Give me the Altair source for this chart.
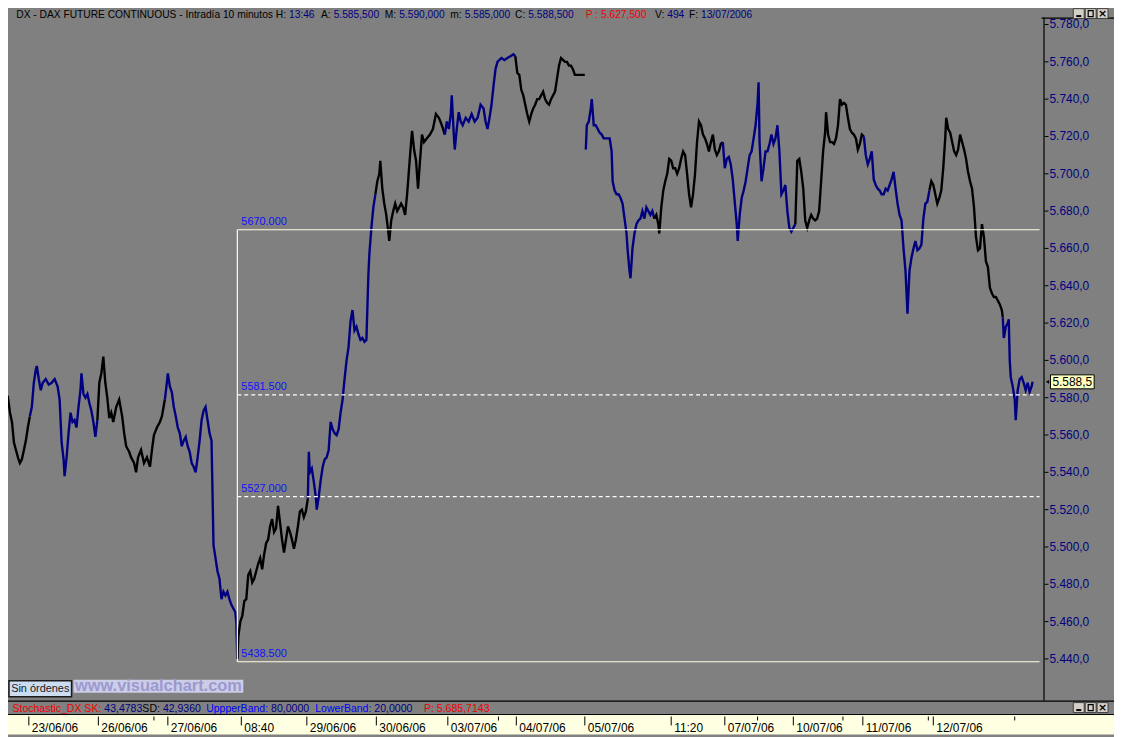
import altair as alt
import pandas as pd

# ---------------- data ----------------
# bar number (10-minute bars, one per pixel column) and price
bar = [4, 6, 8, 10, 12, 14, 16, 18, 20, 22, 24, 26, 28, 30,
       32, 34, 36, 37, 39, 41, 43, 46, 49, 52, 55, 58, 60, 62, 64, 65, 67, 69, 71, 73, 75, 77, 79, 81, 82, 84, 86, 88, 90, 92, 94, 96, 98,
       100, 102, 104, 106, 108, 110, 112, 114, 117, 120, 123, 125, 127, 130, 132, 135, 137, 139, 142, 145, 148, 151, 153, 155, 158, 161, 163, 166,
       168, 169, 171, 173, 175, 177, 179, 181, 183, 185, 187, 189, 191, 193, 195, 197, 199, 201, 203, 205, 207, 209, 211, 213, 214, 215, 217, 219, 221, 223, 225, 227, 229, 231, 233, 235, 237, 238, 239,
       240, 242, 244, 246, 248, 250, 252, 254, 256, 258, 260, 262, 264, 266, 268, 270, 272, 274, 276, 278, 280, 282, 284, 286, 288, 290, 292, 294, 296, 298, 300, 302, 304, 306, 308, 310,
       311, 312, 314, 316, 318, 319, 321, 323, 325, 327, 329, 331, 333, 335, 337, 339, 341, 343, 345, 347, 349, 351, 353, 355, 357, 359, 361, 363, 365, 367, 369, 371, 372, 374, 376, 378,
       380, 382, 383, 385, 387, 389, 391, 392, 394, 396, 398, 400, 402, 404, 406, 408, 410, 412, 414, 415, 417, 419, 421, 423, 425, 427, 430, 433, 436, 439, 442, 445, 448,
       450, 452, 454, 455, 457, 458, 460, 462, 464, 466, 469, 472, 475, 478, 481, 484, 487, 489, 491, 493, 495, 497, 499, 501, 503, 505, 508, 511, 514, 517, 519,
       521, 523, 525, 527, 529, 531, 533, 535, 537, 539, 541, 543, 545, 547, 549, 551, 553, 555, 557, 559, 561, 563, 565, 567, 569, 571, 573, 575, 577, 579, 581, 583, 585, 587, 589,
       590, 591, 593, 595, 596, 598, 600, 602, 604, 606, 608, 610, 612, 614, 616, 617, 619, 621, 623, 625, 627, 629, 631, 632, 634, 635, 637, 639, 641, 643, 645, 647, 649, 651, 653, 655, 657, 659,
       661, 663, 664, 666, 668, 670, 672, 674, 676, 678, 680, 682, 684, 686, 688, 690, 692, 694, 696, 698, 700, 702, 704, 706, 708, 710, 712, 714, 716, 718, 720, 722, 724, 726, 728,
       730, 732, 734, 736, 738, 740, 742, 743, 745, 747, 749, 751, 753, 755, 757, 759, 761, 763, 764, 765, 767, 769, 771, 773, 775, 777, 779, 781, 783, 785, 787, 789, 791, 793, 795, 797, 799, 801,
       803, 805, 807, 809, 811, 813, 815, 817, 819, 821, 823, 825, 827, 829, 831, 832, 834, 836, 838, 840, 842, 844, 846, 848, 850, 852, 854, 856, 858, 860, 862, 864, 866, 868, 870,
       872, 874, 876, 878, 880, 882, 884, 886, 888, 890, 892, 894, 896, 898, 900, 902, 904, 906, 908, 910, 912, 914, 916, 918, 920, 922, 924, 926, 928, 930, 932, 934, 936,
       938, 940, 942, 944, 946, 948, 950, 952, 953, 955, 957, 959, 961, 963, 965, 967, 969, 971, 973, 975, 977, 979, 981, 983, 985, 987, 989, 991, 993, 995, 997, 999, 1001, 1003, 1005, 1007, 1009, 1010,
       1011, 1013, 1015, 1016, 1017, 1018, 1020, 1022, 1023, 1025, 1027, 1029, 1031, 1033, 1035, 1037, 1039, 1040]
price = [5572, 5579, 5580, 5572, 5567, 5556, 5552, 5548, 5545, 5547, 5552, 5557, 5564, 5570,
         5575, 5588, 5595, 5597, 5590, 5584, 5588, 5590, 5587, 5588, 5590, 5586, 5579, 5556, 5547, 5538, 5548, 5561, 5572, 5567, 5568, 5564, 5575, 5584, 5593, 5582, 5580, 5582, 5577, 5573, 5567, 5559, 5568,
         5588, 5593, 5602, 5588, 5580, 5569, 5572, 5567, 5575, 5579, 5570, 5561, 5554, 5551, 5548, 5545, 5540, 5548, 5552, 5545, 5548, 5543, 5552, 5560, 5564, 5567, 5570, 5579,
         5588, 5593, 5586, 5583, 5575, 5570, 5564, 5561, 5554, 5557, 5559, 5554, 5551, 5545, 5543, 5540, 5548, 5557, 5568, 5573, 5575, 5568, 5561, 5557, 5529, 5501, 5494, 5487, 5483, 5472, 5476, 5474, 5476, 5472, 5469, 5467, 5465, 5459, 5440,
         5452, 5460, 5463, 5471, 5472, 5485, 5487, 5481, 5483, 5487, 5491, 5494, 5488, 5496, 5502, 5504, 5511, 5515, 5508, 5510, 5522, 5513, 5504, 5497, 5504, 5511, 5508, 5504, 5499, 5504, 5511, 5519, 5520, 5516, 5519, 5526,
         5551, 5540, 5542, 5535, 5527, 5520, 5527, 5536, 5543, 5547, 5548, 5552, 5567, 5563, 5561, 5560, 5563, 5572, 5579, 5590, 5600, 5607, 5621, 5627, 5616, 5618, 5614, 5611, 5612, 5610, 5611, 5646, 5657, 5671, 5682, 5689,
         5696, 5700, 5707, 5692, 5684, 5678, 5669, 5664, 5675, 5680, 5684, 5680, 5682, 5684, 5682, 5678, 5689, 5703, 5717, 5723, 5713, 5707, 5692, 5707, 5721, 5717, 5719, 5721, 5724, 5732, 5730, 5726, 5721,
         5728, 5724, 5732, 5742, 5721, 5713, 5724, 5733, 5728, 5726, 5730, 5728, 5732, 5728, 5730, 5737, 5735, 5728, 5724, 5730, 5737, 5747, 5756, 5760, 5761, 5762, 5761, 5762, 5763, 5764, 5763,
         5754, 5753, 5745, 5742, 5737, 5732, 5728, 5732, 5735, 5737, 5740, 5740, 5742, 5744, 5740, 5738, 5737, 5740, 5742, 5744, 5751, 5758, 5762, 5761, 5760, 5760, 5758, 5758, 5756, 5753, 5753, 5753, 5753, 5753, 5753,
         5713, 5726, 5728, 5735, 5740, 5726, 5726, 5724, 5722, 5721, 5719, 5719, 5719, 5719, 5712, 5696, 5691, 5689, 5689, 5687, 5684, 5676, 5668, 5660, 5648, 5644, 5660, 5668, 5673, 5675, 5676, 5680, 5676, 5682, 5680, 5678, 5680, 5676,
         5678, 5673, 5668, 5682, 5691, 5696, 5700, 5708, 5707, 5703, 5703, 5700, 5703, 5708, 5712, 5710, 5700, 5689, 5682, 5689, 5700, 5717, 5728, 5726, 5721, 5719, 5716, 5712, 5717, 5721, 5713, 5710, 5712, 5716, 5717,
         5703, 5708, 5709, 5705, 5697, 5685, 5673, 5664, 5678, 5687, 5691, 5696, 5703, 5710, 5712, 5719, 5726, 5738, 5749, 5717, 5696, 5703, 5712, 5712, 5716, 5721, 5716, 5719, 5726, 5712, 5689, 5691, 5694, 5680, 5671, 5669, 5671, 5673,
         5707, 5708, 5701, 5692, 5675, 5671, 5675, 5678, 5676, 5675, 5676, 5680, 5696, 5712, 5722, 5733, 5721, 5717, 5717, 5716, 5719, 5726, 5740, 5737, 5738, 5737, 5730, 5724, 5722, 5721, 5719, 5713, 5716, 5721, 5720,
         5710, 5705, 5708, 5712, 5697, 5694, 5692, 5691, 5689, 5689, 5692, 5691, 5694, 5697, 5701, 5692, 5684, 5678, 5675, 5660, 5648, 5625, 5648, 5655, 5660, 5664, 5659, 5660, 5662, 5676, 5684, 5685, 5691,
         5696, 5694, 5689, 5684, 5687, 5691, 5703, 5719, 5730, 5724, 5722, 5717, 5712, 5710, 5713, 5721, 5717, 5713, 5708, 5701, 5696, 5692, 5682, 5666, 5659, 5660, 5673, 5666, 5653, 5650, 5639, 5636, 5634, 5634, 5632, 5630, 5627, 5623,
         5612, 5618, 5620, 5622, 5600, 5591, 5586, 5579, 5568, 5584, 5590, 5591, 5588, 5584, 5588, 5583, 5586, 5588.5]

# colour runs of the price line (first bar of each run)
seg_start = [0, 31, 99, 167, 240, 311, 380, 450, 520, 590, 660, 730, 802, 872, 937, 1011]
seg_colour = ["#000000", "#000080"] * 8
session_break = [590]

y_tick_values = [5440, 5460, 5480, 5500, 5520, 5540, 5560, 5580, 5600, 5620, 5640, 5660, 5680, 5700, 5720, 5740, 5760, 5780]
y_tick_labels = ["5.440,0", "5.460,0", "5.480,0", "5.500,0", "5.520,0", "5.540,0", "5.560,0", "5.580,0", "5.600,0",
                 "5.620,0", "5.640,0", "5.660,0", "5.680,0", "5.700,0", "5.720,0", "5.740,0", "5.760,0", "5.780,0"]

x_tick_bars = [29, 99, 155, 169, 243, 309, 379, 451, 502, 520, 589, 676, 730, 763, 799, 849, 869, 935, 940, 1022]
x_tick_labels = ["23/06/06", "26/06/06", "", "27/06/06", "08:40", "29/06/06", "30/06/06", "03/07/06", "", "04/07/06",
                 "05/07/06", "11:20", "07/07/06", "", "10/07/06", "", "11/07/06", "", "12/07/06", ""]

fib_levels = [5670.0, 5581.5, 5527.0, 5438.5]
fib_labels = ["5670.000", "5581.500", "5527.000", "5438.500"]
fib_dashed = [False, True, True, False]
fib_start_bar = 239
fib_end_bar = 1047
fib_label_bar = 243

last_price = 5588.5
last_label = "5.588,5"

header_texts = ["DX - DAX FUTURE CONTINUOUS - Intradía 10 minutos  H:", "13:46", "A:", "5.585,500", "M:", "5.590,000",
                "m:", "5.585,000", "C:", "5.588,500", "P : 5.627,500", "V:", "494", "F:", "13/07/2006"]
stoch_texts = ["Stochastic_DX  SK:", "43,4783", "SD:", "42,9360", "UppperBand:", "80,0000", "LowerBand:", "20,0000", "P: 5.685,7143"]

# ---------------- styling / layout ----------------
FONT = "Liberation Sans"
W, H = 1114, 729            # whole page area (browser draws it at +8,+8)
BG = "#808080"
NAVY = "#000080"
RED = "#F00000"
BLUE = "#0000FF"
BLK = "#000000"

# (x anchor in chart px, align) for each text run
header_colours = [BLK, NAVY, BLK, NAVY, BLK, NAVY, BLK, NAVY, BLK, NAVY, RED, BLK, NAVY, BLK, NAVY]
header_anchor = [(280, "right"), (283, "left"), (325, "right"), (328, "left"), (391, "right"), (394, "left"),
                 (457, "right"), (460, "left"), (521, "right"), (524, "left"), (582, "left"), (661, "right"),
                 (664, "left"), (695, "right"), (698, "left")]
stoch_colours = [RED, NAVY, BLK, NAVY, BLUE, NAVY, BLUE, NAVY, RED]
stoch_anchor = [(94, "right"), (97, "left"), (153, "right"), (156, "left"), (262, "right"), (265, "left"),
                (366, "right"), (369, "left"), (419, "left")]

# scales: pixel calibration of the reference (5780 -> 14px, 5440 -> 653px inside the chart)
PX_TOP, PX_BOT = 14.0, 653.0
ppu = (PX_BOT - PX_TOP) / (5780 - 5440)
d_hi = 5780 + PX_TOP / ppu
d_lo = d_hi - H / ppu
xs = alt.Scale(domain=[8, 8 + W], zero=False, nice=False)
ys = alt.Scale(domain=[d_lo, d_hi], zero=False, nice=False)

ONE = pd.DataFrame({"k": [0]})


def txt(text, x, y, colour, size=11, align="left", weight="normal", font=FONT):
    return alt.Chart(pd.DataFrame({"t": [text]})).mark_text(
        align=align, baseline="middle", fontSize=size, color=colour, font=font, fontWeight=weight
    ).encode(x=alt.value(x), y=alt.value(y), text="t:N")


def box(x, x2, y, y2, fill, stroke=None, sw=1.0):
    kw = dict(fill=fill)
    if stroke:
        kw.update(stroke=stroke, strokeWidth=sw)
    return alt.Chart(ONE).mark_rect(**kw).encode(
        x=alt.value(x), x2=alt.value(x2), y=alt.value(y), y2=alt.value(y2))


def hline(x, x2, y, colour, sw=1.0):
    return alt.Chart(ONE).mark_rule(color=colour, strokeWidth=sw).encode(
        x=alt.value(x), x2=alt.value(x2), y=alt.value(y))


def vline(x, y, y2, colour, sw=1.0):
    return alt.Chart(ONE).mark_rule(color=colour, strokeWidth=sw).encode(
        x=alt.value(x), y=alt.value(y), y2=alt.value(y2))


# ---------------- price series in coloured runs ----------------
rows = []
for k, s in enumerate(seg_start):
    e = seg_start[k + 1] if k + 1 < len(seg_start) else 10 ** 9
    pts = [(b, p) for b, p in zip(bar, price) if s <= b < e]
    if k > 0 and s not in session_break:
        prev = [(b, p) for b, p in zip(bar, price) if b < s]
        if prev:
            pts = [prev[-1]] + pts
    for b, p in pts:
        rows.append({"bar": b, "price": p, "seg": k, "colour": seg_colour[k]})
series = pd.DataFrame(rows)

line = alt.Chart(series).mark_line(strokeWidth=2.4, clip=True, strokeJoin="miter").encode(
    x=alt.X("bar:Q", scale=xs, axis=None),
    y=alt.Y("price:Q", scale=ys, axis=None),
    detail="seg:N",
    order="bar:Q",
    color=alt.Color("colour:N", scale=None),
)

# ---------------- fibonacci tool ----------------
fib = pd.DataFrame({"level": fib_levels, "label": fib_labels, "dashed": fib_dashed,
                    "x0": [fib_start_bar] * 4, "x1": [fib_end_bar] * 4, "xl": [fib_label_bar] * 4})
fib_solid = alt.Chart(fib).transform_filter("!datum.dashed").mark_rule(color="#FFFFE4", strokeWidth=1.2).encode(
    x=alt.X("x0:Q", scale=xs), x2="x1:Q", y=alt.Y("level:Q", scale=ys))
fib_dash = alt.Chart(fib).transform_filter("datum.dashed").mark_rule(color="#FFFFFF", strokeWidth=1.2, strokeDash=[4, 3]).encode(
    x=alt.X("x0:Q", scale=xs), x2="x1:Q", y=alt.Y("level:Q", scale=ys))
fib_vert = alt.Chart(pd.DataFrame({"b": [fib_start_bar], "hi": [fib_levels[0]], "lo": [fib_levels[-1]]})).mark_rule(
    color="#FFFFE4", strokeWidth=1.2).encode(x=alt.X("b:Q", scale=xs), y=alt.Y("hi:Q", scale=ys), y2="lo:Q")
fib_text = alt.Chart(fib).mark_text(align="left", baseline="middle", dy=-8, fontSize=11, font=FONT, color="#1010FF").encode(
    x=alt.X("xl:Q", scale=xs), y=alt.Y("level:Q", scale=ys), text="label:N")

# ---------------- right price axis ----------------
yt = pd.DataFrame({"v": y_tick_values, "lab": y_tick_labels})
y_ticks = alt.Chart(yt).mark_rule(color=BLK, strokeWidth=1).encode(
    x=alt.value(1044), x2=alt.value(1048), y=alt.Y("v:Q", scale=ys))
y_labels = alt.Chart(yt).mark_text(align="left", baseline="middle", fontSize=12, font=FONT, color=NAVY).encode(
    x=alt.value(1049), y=alt.Y("v:Q", scale=ys), text="lab:N")

lp = pd.DataFrame({"p": [last_price], "lab": [last_label]})
tag_box = alt.Chart(lp).mark_point(shape="M-1,-0.32H1V0.32H-1Z", size=1936, filled=True, fill="#FFFFC0",
                                   stroke=BLK, strokeWidth=1, opacity=1).encode(
    x=alt.value(1072), y=alt.Y("p:Q", scale=ys))
tag_arrow = alt.Chart(lp).mark_point(shape="triangle-left", size=14, filled=True, color=BLK, opacity=1).encode(
    x=alt.value(1047), y=alt.Y("p:Q", scale=ys))
tag_text = alt.Chart(lp).mark_text(align="center", baseline="middle", fontSize=12, font=FONT, color=BLK).encode(
    x=alt.value(1072), y=alt.Y("p:Q", scale=ys), text="lab:N")

# ---------------- bottom date strip ----------------
xt = pd.DataFrame({"b": x_tick_bars, "lab": x_tick_labels})
x_major = alt.Chart(xt).transform_filter("datum.lab != ''").mark_rule(color=BLK).encode(
    x=alt.X("b:Q", scale=xs), y=alt.value(711), y2=alt.value(720))
x_minor = alt.Chart(xt).transform_filter("datum.lab == ''").mark_rule(color=BLK).encode(
    x=alt.X("b:Q", scale=xs), y=alt.value(711), y2=alt.value(715))
x_labels = alt.Chart(xt).mark_text(align="left", baseline="middle", dx=3, fontSize=12, font=FONT, color=BLK).encode(
    x=alt.X("b:Q", scale=xs), y=alt.value(723), text="lab:N")

# ---------------- frame pieces ----------------
frame = [
    box(0, W, 709, H, "#FFFFE1"),
    hline(0, W, 695.5, BLK, 1.2),
    hline(0, W, 709, BLK, 1),
    vline(1043.5, 7, 695, BLK, 1.2),
    hline(1041, W, 7.5, BLK, 1.2),
]

header = [txt(t.replace("  ", " "), ax, 4.5, c, size=10.3, align=al)
          for t, (ax, al), c in zip(header_texts, header_anchor, header_colours)]
stoch = [txt(t.replace("  ", " "), ax, 703, c, size=10.6, align=al)
         for t, (ax, al), c in zip(stoch_texts, stoch_anchor, stoch_colours)]


def buttons(y0):
    out = []
    for x0 in [1073, 1085, 1097]:
        out.append(box(x0, x0 + 11, y0, y0 + 10, "#D4D0C8", "#404040", 1))
    out.append(hline(1076, 1081, y0 + 7.5, BLK, 2))
    out.append(box(1088, 1093, y0 + 2, y0 + 8, "#D4D0C8", BLK, 1.2))
    out.append(txt("×", 1102.5, y0 + 5, BLK, size=11, align="center", weight="bold", font="DejaVu Sans"))
    return out


extras = [
    box(1, 64, 675, 691, "#CCDDF2", "#1A1A1A", 1.5),
    txt("Sin órdenes", 32.5, 683, "#1A1A1A", size=11, align="center"),
    box(66, 237, 674, 687, "#CDCDE8"),
    txt("www.visualchart.com", 151.5, 680.5, "#9A9ACF", size=16.5, align="center", weight="bold"),
]

layers = (frame + [line, fib_solid, fib_dash, fib_vert, fib_text, y_ticks, y_labels,
                   tag_box, tag_arrow, tag_text, x_major, x_minor, x_labels]
          + header + stoch + buttons(-2) + buttons(697) + extras)

chart = alt.layer(*layers).properties(
    width=W, height=H, padding=0, autosize=alt.AutoSizeParams(type="none")
).configure(background=BG).configure_view(strokeWidth=0)

chart.save("out.html", embed_options={"renderer": "svg", "actions": False})
